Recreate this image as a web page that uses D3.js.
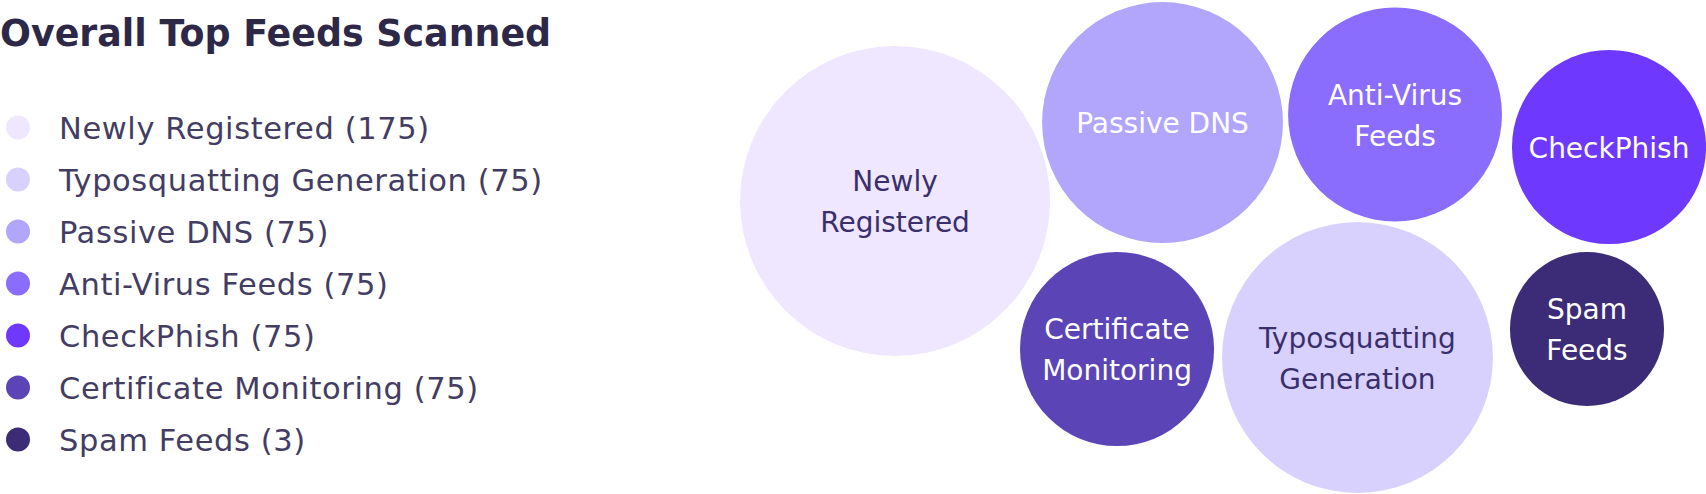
<html>
<head>
<meta charset='utf-8'>
<script src='https://cdn.jsdelivr.net/npm/d3@7'></script>
<style>
body { margin: 0; background: #fff; }
text { font-family: 'DejaVu Sans', sans-serif; }
</style>
</head>
<body>
<svg id='chart' width='1706' height='494'></svg>
<script>
// feeds and their counts (legend order)
const feeds = ['Newly Registered', 'Typosquatting Generation', 'Passive DNS', 'Anti-Virus Feeds', 'CheckPhish', 'Certificate Monitoring', 'Spam Feeds']
const counts = [175, 75, 75, 75, 75, 75, 3]
const palette = ['#eee7ff', '#d9d1fd', '#b2a5fc', '#8a6dfd', '#6e38ff', '#5b44b6', '#3c2c77']
// bubble labels, broken onto lines like the original
const bubbleLabels = [['Newly', 'Registered'], ['Typosquatting', 'Generation'], ['Passive DNS'], ['Anti-Virus', 'Feeds'], ['CheckPhish'], ['Certificate', 'Monitoring'], ['Spam', 'Feeds']]
// bubble placement in chart units (0-100) and bubble size (0-100)
const bubbleX = [16.05, 63.92, 43.74, 67.81, 89.96, 39.03, 87.68]
const bubbleY = [40.69, 72.37, 24.80, 23.18, 29.76, 70.65, 66.60]
const bubbleSize = [100, 87.4, 77.7, 69, 62.6, 62.6, 49.7]

const svg = d3.select('#chart')

svg.append('text')
	.attr('x', 0)
	.attr('y', 46)
	.attr('fill', '#2d2848')
	.style('font-size', '36.4px')
	.style('font-weight', 'bold')
	.text('Overall Top Feeds Scanned')

// legend
const legendY = d3.scalePoint().domain(feeds).range([127.5, 439.5])
const color = d3.scaleOrdinal().domain(feeds).range(palette)

const legend = svg.append('g').selectAll('g')
	.data(feeds).enter().append('g')
	.attr('transform', d => 'translate(0,' + legendY(d) + ')')

legend.append('circle')
	.attr('cx', 18)
	.attr('r', 12)
	.attr('fill', d => color(d))

legend.append('text')
	.attr('x', 59)
	.attr('y', 11)
	.attr('fill', '#433d63')
	.style('font-size', '30.5px')
	.style('letter-spacing', '0.6px')
	.text((d, i) => `${d} (${counts[i]})`)

// bubbles
const x = d3.scaleLinear().domain([0, 100]).range([740, 1706])
const y = d3.scaleLinear().domain([0, 100]).range([0, 494])
const r = d3.scaleLinear().domain([0, 100]).range([0, 155])
const darkText = new Set(['Newly Registered', 'Typosquatting Generation'])

const bubbles = feeds.map((f, i) => ({ name: f, x: bubbleX[i], y: bubbleY[i], size: bubbleSize[i], lines: bubbleLabels[i] }))

const node = svg.append('g').selectAll('g')
	.data(bubbles).enter().append('g')
	.attr('transform', d => 'translate(' + x(d.x) + ',' + y(d.y) + ')')

node.append('circle')
	.attr('r', d => r(d.size))
	.attr('fill', d => color(d.name))

node.each(function (d) {
	const n = d.lines.length
	d3.select(this).selectAll('text')
		.data(d.lines).enter().append('text')
		.attr('text-anchor', 'middle')
		.attr('y', (t, j) => 10.5 + (j - (n - 1) / 2) * 41)
		.attr('fill', darkText.has(d.name) ? '#3a2f6c' : '#ffffff')
		.style('font-size', '28px')
		.text(t => t)
})
</script>
</body>
</html>
